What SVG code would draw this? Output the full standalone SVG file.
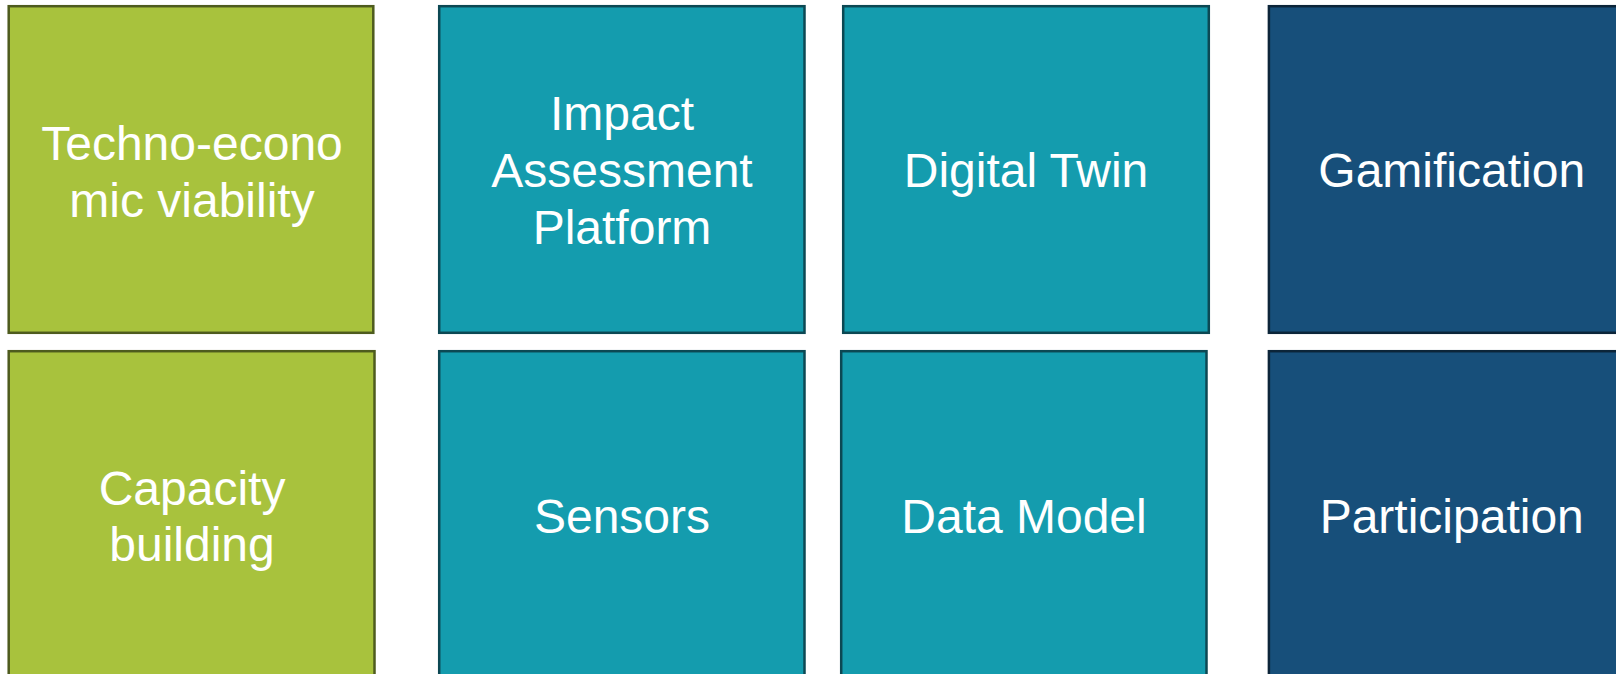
<svg xmlns="http://www.w3.org/2000/svg" width="1616" height="674" viewBox="0 0 1616 674">
<style>
.box{stroke-width:2.5}
.g{fill:#A8C23D;stroke:#4E5B1E}
.t{fill:#149CAE;stroke:#0C4853}
.b{fill:#174F7A;stroke:#0C2539}
text{font-family:"Liberation Sans",Arial,sans-serif;font-size:48px;fill:#FFFFFF;text-anchor:middle}
</style>
<rect width="1616" height="674" fill="#FFFFFF"/>
<g id="connectors"/>
<g id="techno">
<rect class="box g" x="8.7" y="6.2" width="364.6" height="326.6"/>
<text x="192" y="160">Techno-econo</text>
<text x="192" y="217">mic viability</text>
</g>
<g id="impact">
<rect class="box t" x="439.2" y="6.2" width="365.3" height="326.6"/>
<text x="622" y="130">Impact</text>
<text x="622" y="187">Assessment</text>
<text x="622" y="244">Platform</text>
</g>
<g id="digitaltwin">
<rect class="box t" x="843.2" y="6.2" width="365.6" height="326.6"/>
<text x="1026" y="187">Digital Twin</text>
</g>
<g id="gamification">
<rect class="box b" x="1268.9" y="6.2" width="366" height="326.6"/>
<text x="1451.7" y="187">Gamification</text>
</g>
<g id="capacity">
<rect class="box g" x="8.7" y="351.2" width="365.8" height="330"/>
<text x="192" y="505">Capacity</text>
<text x="192" y="561">building</text>
</g>
<g id="sensors">
<rect class="box t" x="439.2" y="351.2" width="365.3" height="330"/>
<text x="622" y="533">Sensors</text>
</g>
<g id="datamodel">
<rect class="box t" x="841.2" y="351.2" width="365.3" height="330"/>
<text x="1024" y="533">Data Model</text>
</g>
<g id="participation">
<rect class="box b" x="1268.9" y="351.2" width="366" height="330"/>
<text x="1451.7" y="533">Participation</text>
</g>
</svg>
